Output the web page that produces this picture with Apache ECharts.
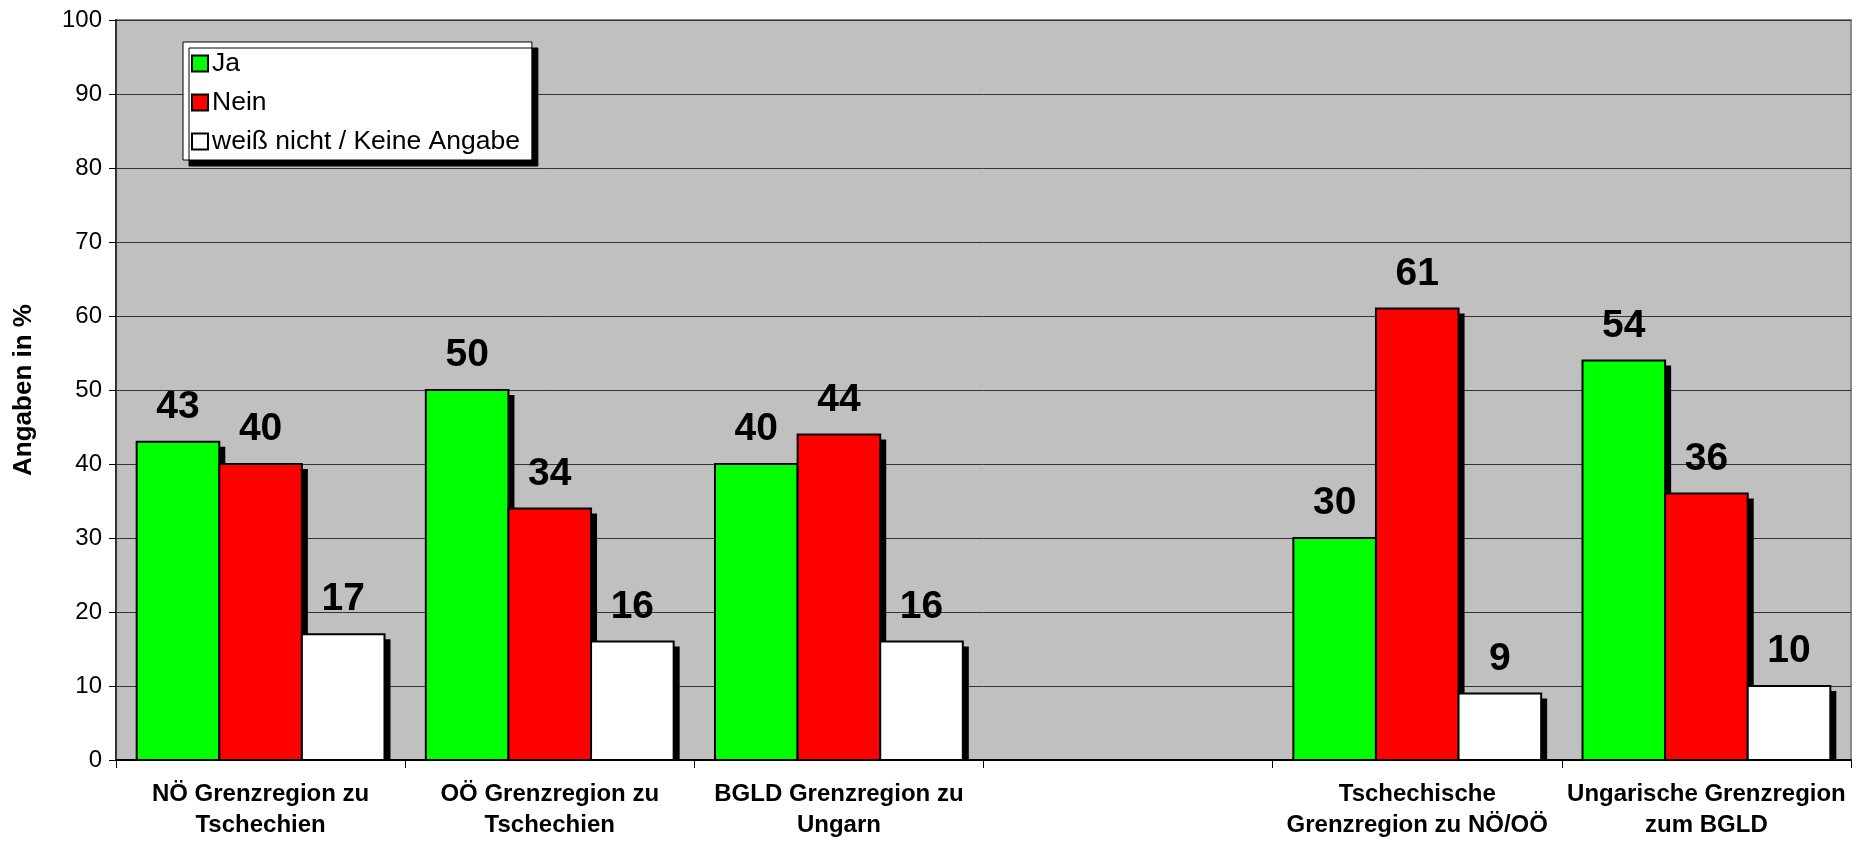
<!DOCTYPE html>
<html>
<head>
<meta charset="utf-8">
<title>Grenzregionen – Angaben in %</title>
<script src="https://cdn.jsdelivr.net/npm/echarts@6/dist/echarts.min.js"></script>
<style>
  html, body { margin: 0; padding: 0; background: #ffffff; }
  #chart { width: 1856px; height: 841px; }
</style>
</head>
<body>
<div id="chart"></div>
<script>
// Regions (the empty slot separates the Austrian from the neighbouring regions)
const categories = [
  'NÖ Grenzregion zu\nTschechien',
  'OÖ Grenzregion zu\nTschechien',
  'BGLD Grenzregion zu\nUngarn',
  '',
  'Tschechische\nGrenzregion zu NÖ/OÖ',
  'Ungarische Grenzregion\nzum BGLD'
];

const seriesNames = ['Ja', 'Nein', 'weiß nicht / Keine Angabe'];

// Answers in percent (null = no bar in that slot)
const jaValues    = [43, 50, 40, null, 30, 54];
const neinValues  = [40, 34, 44, null, 61, 36];
const wnkaValues  = [17, 16, 16, null, 9, 10];

const yTicks = { min: 0, max: 100, interval: 10 };

const FONT = "'Liberation Sans', Arial, Helvetica, sans-serif";
const colors = ['#00ff00', '#ff0000', '#ffffff'];

// Share of each category band left empty around its bar group
const CATEGORY_GAP = 0.143;
const SHADOW_DX = 6, SHADOW_DY = 5;

// Each answer is a custom bar: a hard black drop shadow, the filled bar with
// a black outline, and its value printed above it.
function barSeries(index, values) {
  const data = [];
  values.forEach(function (v, i) { if (v !== null) data.push([i, v]); });
  return {
    name: seriesNames[index],
    type: 'custom',
    data: data,
    encode: { x: 0, y: 1 },
    itemStyle: { color: colors[index], borderColor: '#000000', borderWidth: 2 },
    silent: true,
    animation: false,
    renderItem: function (params, api) {
      const cat = api.value(0);
      const val = api.value(1);
      const base = api.coord([cat, 0]);
      const top = api.coord([cat, val]);
      const band = api.size([1, 0])[0];
      const groupW = band * (1 - CATEGORY_GAP);
      const barW = groupW / 3;
      const x0 = base[0] - groupW / 2 + index * barW;
      const h = base[1] - top[1];
      return {
        type: 'group',
        children: [
          {
            type: 'rect',
            shape: { x: x0 + SHADOW_DX, y: top[1] + SHADOW_DY, width: barW, height: h - SHADOW_DY },
            style: { fill: '#000000' }
          },
          {
            type: 'rect',
            shape: { x: x0, y: top[1], width: barW, height: h },
            style: { fill: colors[index], stroke: '#000000', lineWidth: 2 }
          },
          {
            type: 'text',
            x: x0 + barW / 2,
            y: top[1] - 15,
            style: {
              text: String(val),
              fontFamily: FONT,
              fontSize: 39,
              fontWeight: 'bold',
              fill: '#000000',
              align: 'center',
              verticalAlign: 'bottom'
            }
          }
        ]
      };
    }
  };
}

const chart = echarts.init(document.getElementById('chart'), null, { renderer: 'canvas' });

chart.setOption({
  backgroundColor: '#ffffff',
  animation: false,
  textStyle: { fontFamily: FONT },
  grid: {
    left: 116,
    right: 5,
    top: 20,
    bottom: 81,
    outerBoundsMode: 'none',
    containLabel: false,
    show: true,
    backgroundColor: '#c0c0c0',
    borderColor: '#8a8a8a',
    borderWidth: 2
  },
  legend: {
    data: seriesNames,
    orient: 'vertical',
    left: 183,
    top: 42,
    padding: [8, 12, 5, 8],
    itemGap: 12,
    itemWidth: 16,
    itemHeight: 16,
    icon: 'rect',
    backgroundColor: '#ffffff',
    borderColor: '#000000',
    borderWidth: 1,
    shadowColor: '#000000',
    shadowBlur: 0,
    shadowOffsetX: 6,
    shadowOffsetY: 6,
    itemStyle: {
      borderColor: '#000000',
      borderWidth: 2
    },
    textStyle: {
      fontFamily: FONT,
      fontSize: 26.5,
      color: '#000000',
      padding: [0, 0, 0, -1]
    },
    selectedMode: false
  },
  xAxis: {
    type: 'category',
    data: categories,
    axisLine: { show: true, lineStyle: { color: '#000000', width: 2 } },
    axisTick: { show: true, length: 8, lineStyle: { color: '#000000', width: 1 } },
    axisLabel: {
      interval: 0,
      margin: 19,
      fontFamily: FONT,
      fontSize: 24,
      fontWeight: 'bold',
      lineHeight: 31,
      color: '#000000',
      align: 'center'
    },
    splitLine: { show: false }
  },
  yAxis: {
    type: 'value',
    min: yTicks.min,
    max: yTicks.max,
    interval: yTicks.interval,
    name: 'Angaben in %',
    nameLocation: 'middle',
    nameGap: 79,
    nameTextStyle: {
      fontFamily: FONT,
      fontSize: 26,
      fontWeight: 'bold',
      color: '#000000'
    },
    axisLine: { show: true, lineStyle: { color: '#333333', width: 2 } },
    axisTick: { show: true, length: 7, lineStyle: { color: '#000000', width: 1 } },
    axisLabel: {
      margin: 14,
      fontFamily: FONT,
      fontSize: 24,
      color: '#000000'
    },
    splitLine: { show: true, lineStyle: { color: '#333333', width: 1 } }
  },
  series: [
    barSeries(0, jaValues),
    barSeries(1, neinValues),
    barSeries(2, wnkaValues)
  ]
});
</script>
</body>
</html>
